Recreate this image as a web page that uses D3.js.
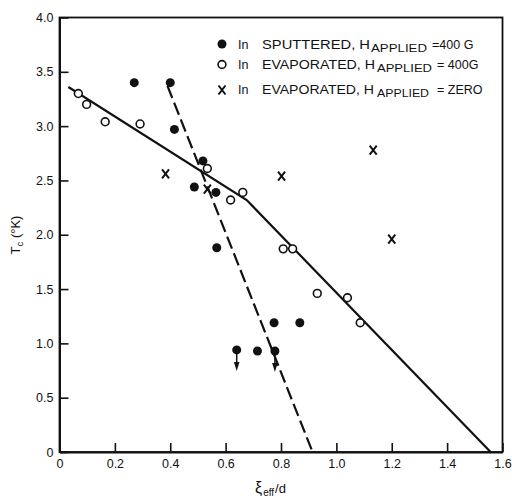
<!DOCTYPE html>
<html>
<head>
<meta charset="utf-8">
<script src="https://cdn.jsdelivr.net/npm/d3@7"></script>
<style>
  body { margin: 0; background: #fff; }
  svg text { font-family: "Liberation Sans", Arial, sans-serif; fill: #111; }
</style>
</head>
<body>
<div id="chart"></div>
<script>
const w = 512;
const h = 499;

// sputtered, H applied = 400 G (filled dots); limits get a down arrow
const sputtered = [
  [0.27, 3.40], [0.40, 3.40], [0.415, 2.97], [0.518, 2.68], [0.487, 2.44],
  [0.565, 2.39], [0.568, 1.88], [0.715, 0.93], [0.775, 1.19], [0.868, 1.19]
];
const sputteredLimits = [[0.64, 0.94], [0.778, 0.93]];

// evaporated, H applied = 400 G (open circles)
const evap400 = [
  [0.068, 3.30], [0.098, 3.20], [0.165, 3.04], [0.291, 3.02], [0.534, 2.61],
  [0.618, 2.32], [0.662, 2.39], [0.808, 1.87], [0.842, 1.87], [0.931, 1.46],
  [1.040, 1.42], [1.086, 1.19]
];

// evaporated, H applied = zero (crosses)
const evapZero = [
  [0.383, 2.56], [0.534, 2.42], [0.802, 2.54], [1.133, 2.78], [1.200, 1.96]
];

// fitted lines
const solidFit = [[0.032, 3.36], [0.676, 2.32], [1.557, 0]];
const dashedFit = [[0.39, 3.37], [0.914, 0]];

const xTicks = [0, 0.2, 0.4, 0.6, 0.8, 1.0, 1.2, 1.4, 1.6];
const yTicks = [0, 0.5, 1.0, 1.5, 2.0, 2.5, 3.0, 3.5, 4.0];

const x = d3.scaleLinear().domain([0, 1.6]).range([59.5, 502.5]);
const y = d3.scaleLinear().domain([0, 4]).range([452, 17.5]);

const svg = d3.select("#chart").append("svg")
  .attr("width", w)
  .attr("height", h);

const fmt = d => d === 0 ? "0" : d3.format(".1f")(d);

// frame
svg.append("rect")
  .attr("x", x(0)).attr("y", y(4))
  .attr("width", x(1.6) - x(0)).attr("height", y(0) - y(4))
  .attr("fill", "none").attr("stroke", "#111").attr("stroke-width", 1.8);

const xAxis = d3.axisBottom(x).tickValues(xTicks).tickFormat(fmt)
  .tickSizeInner(-9).tickSizeOuter(0).tickPadding(7);
const gx = svg.append("g")
  .attr("transform", "translate(0," + y(0) + ")")
  .call(xAxis);

const yAxis = d3.axisLeft(y).tickValues(yTicks).tickFormat(fmt)
  .tickSizeInner(-9).tickSizeOuter(0).tickPadding(6);
const gy = svg.append("g")
  .attr("transform", "translate(" + x(0) + ",0)")
  .call(yAxis);

[gx, gy].forEach(g => {
  g.select(".domain").attr("stroke", "#111").attr("stroke-width", 2);
  g.selectAll(".tick line").attr("stroke", "#111").attr("stroke-width", 1.6);
  g.selectAll(".tick text")
    .attr("font-family", "Liberation Sans, Arial, sans-serif")
    .attr("font-size", 12.5).attr("fill", "#111");
});

// fit lines
const line = d3.line().x(d => x(d[0])).y(d => y(d[1]));
svg.append("path").datum(solidFit)
  .attr("d", line).attr("fill", "none")
  .attr("stroke", "#111").attr("stroke-width", 2.2);
svg.append("path").datum(dashedFit)
  .attr("d", line).attr("fill", "none")
  .attr("stroke", "#111").attr("stroke-width", 2.2)
  .attr("stroke-dasharray", "13,5");

// markers
function dot(g, cx, cy) {
  g.append("circle").attr("cx", cx).attr("cy", cy).attr("r", 4.5).attr("fill", "#111");
}
function ring(g, cx, cy) {
  g.append("circle").attr("cx", cx).attr("cy", cy).attr("r", 3.9)
    .attr("fill", "#fff").attr("stroke", "#111").attr("stroke-width", 1.6);
}
function cross(g, cx, cy) {
  g.append("path")
    .attr("d", `M${cx - 3.5},${cy - 4.5}L${cx + 3.5},${cy + 4.5}M${cx + 3.5},${cy - 4.5}L${cx - 3.5},${cy + 4.5}`)
    .attr("stroke", "#111").attr("stroke-width", 2).attr("fill", "none");
}

const marks = svg.append("g");
evapZero.forEach(d => cross(marks, x(d[0]), y(d[1])));
sputtered.forEach(d => dot(marks, x(d[0]), y(d[1])));
sputteredLimits.forEach(d => {
  const cx = x(d[0]), cy = y(d[1]);
  marks.append("line").attr("x1", cx).attr("x2", cx).attr("y1", cy).attr("y2", cy + 14)
    .attr("stroke", "#111").attr("stroke-width", 1.5);
  marks.append("path")
    .attr("d", `M${cx - 2.8},${cy + 12}L${cx + 2.8},${cy + 12}L${cx},${cy + 21}Z`)
    .attr("fill", "#111");
  dot(marks, cx, cy);
});
evap400.forEach(d => ring(marks, x(d[0]), y(d[1])));

// legend
const legendRows = [
  { mark: dot, my: 44, base: 48.5, sub: 51.5,
    main: "SPUTTERED, H", mainEnd: 370, subX: 371, subEnd: 427, tail: "=400 G", tailX: 432 },
  { mark: ring, my: 64.5, base: 68.5, sub: 72,
    main: "EVAPORATED, H", mainEnd: 375, subX: 377, subEnd: 432, tail: "= 400G", tailX: 437 },
  { mark: cross, my: 90, base: 93.5, sub: 96.5,
    main: "EVAPORATED, H", mainEnd: 374, subX: 377, subEnd: 429, tail: "= ZERO", tailX: 437 }
];
const lg = svg.append("g");
legendRows.forEach(r => {
  r.mark(lg, 222, r.my);
  lg.append("text").attr("x", 238).attr("y", r.base).attr("font-size", 12.5).text("In");
  lg.append("text").attr("x", 262).attr("y", r.base).attr("font-size", 12.5)
    .attr("textLength", r.mainEnd - 262).attr("lengthAdjust", "spacingAndGlyphs").text(r.main);
  lg.append("text").attr("x", r.subX).attr("y", r.sub).attr("font-size", 10)
    .attr("textLength", r.subEnd - r.subX).attr("lengthAdjust", "spacingAndGlyphs").text("APPLIED");
  lg.append("text").attr("x", r.tailX).attr("y", r.base).attr("font-size", 12.5).text(r.tail);
});

// axis titles
const xt = svg.append("text").attr("x", 255).attr("y", 493).attr("font-size", 13);
xt.append("tspan").attr("font-size", 16).text("ξ");
xt.append("tspan").attr("font-size", 10).attr("dy", 3).attr("dx", 1).text("eff");
xt.append("tspan").attr("dy", -3).attr("dx", 1).text("/d");

const yt = svg.append("text")
  .attr("transform", "translate(20,235) rotate(-90)")
  .attr("text-anchor", "middle").attr("font-size", 13);
yt.append("tspan").text("T");
yt.append("tspan").attr("font-size", 9.5).attr("dy", 3).text("c");
yt.append("tspan").attr("dy", -3).text(" (°K)");
</script>
</body>
</html>
